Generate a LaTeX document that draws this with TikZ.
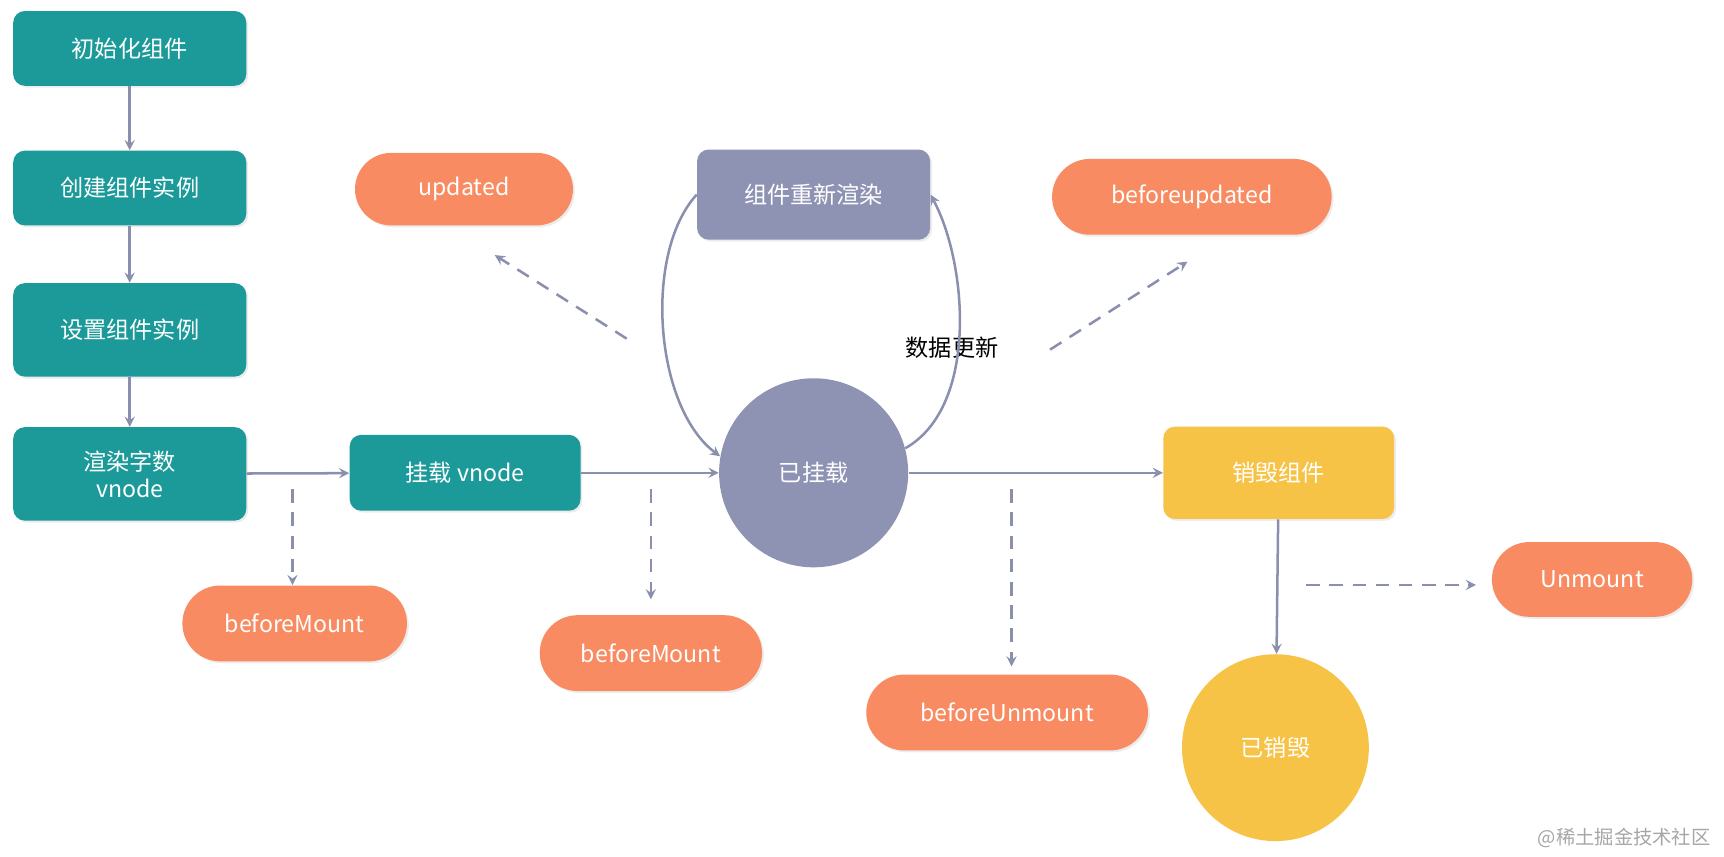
\documentclass[tikz,border=0pt]{standalone}
\usepackage{fontspec}
\setmainfont{Noto Sans CJK SC}
\usetikzlibrary{shadows,shapes.misc}
\definecolor{teal1}{HTML}{1B9A99}
\definecolor{lilac}{HTML}{8E93B3}
\definecolor{coral}{HTML}{F88B62}
\definecolor{gold}{HTML}{F6C347}
\definecolor{linegray}{HTML}{8A8FAE}
\tikzset{
  box/.style={rectangle, rounded corners=6pt, text=white, font=\large, align=center,
    minimum width=4.24cm, drop shadow={opacity=0.15, shadow xshift=1pt, shadow yshift=-1pt}},
  hook/.style={rounded rectangle, fill=coral, text=white, font=\large, minimum height=1.38cm,
    drop shadow={opacity=0.15, shadow xshift=1pt, shadow yshift=-1pt}},
  state/.style={circle, text=white, font=\large, minimum size=3.44cm},
  flow/.style={->, >=stealth, linegray, line width=1.3pt},
  hint/.style={->, >=stealth, linegray, line width=1.3pt, dash pattern=on 7pt off 5pt},
}
\begin{document}
\begin{tikzpicture}[x=0.02cm, y=-0.02cm]
    \useasboundingbox (0,0) rectangle (1568,779);

    % init column
    \node[box, fill=teal1, minimum height=1.36cm] (init) at (118,44) {初始化组件};
    \node[box, fill=teal1, minimum height=1.36cm] (create) at (118,171) {创建组件实例};
    \node[box, fill=teal1, minimum height=1.7cm] (setup) at (118,300) {设置组件实例};
    \node[box, fill=teal1, minimum height=1.7cm] (render) at (118,431) {渲染字数\\vnode};

    % mount and update
    \node[box, fill=teal1, minimum width=4.2cm, minimum height=1.38cm] (mount) at (423,430) {挂载 vnode};
    \node[state, fill=lilac] (mounted) at (740,430) {已挂载};
    \node[box, fill=lilac, minimum height=1.64cm] (rerender) at (740,177) {组件重新渲染};
    \node[font=\large] (change) at (866,316) {数据更新};

    % unmount
    \node[box, fill=gold, minimum width=4.2cm, minimum height=1.68cm] (destroy) at (1163,430) {销毁组件};
    \node[state, fill=gold, minimum size=3.4cm] (destroyed) at (1160,680) {已销毁};

    % hooks
    \node[hook, minimum width=4.2cm, minimum height=1.32cm] (updated) at (422,172) {updated};
    \node[hook, minimum width=5.32cm] (beforeupd) at (1084,179) {beforeupdated};
    \node[hook, minimum width=4.32cm] (bm1) at (268,567) {beforeMount};
    \node[hook, minimum width=4.28cm] (bm2) at (592,594) {beforeMount};
    \node[hook, minimum width=5.36cm] (bum) at (916,648) {beforeUnmount};
    \node[hook, minimum width=3.88cm, minimum height=1.36cm] (um) at (1448,527) {Unmount};

    % main flow
    \draw[flow] (init) -- (create);
    \draw[flow] (create) -- (setup);
    \draw[flow] (setup) -- (render);
    \draw[flow] (render) -- (mount);
    \draw[flow] (mount) -- (mounted);
    \draw[flow] (mounted) -- (destroy);
    \draw[flow] (destroy) -- (destroyed);
    \draw[flow] (rerender.west) .. controls (585,230) and (595,370) .. (mounted.170);
    \draw[flow] (mounted.15) .. controls (890,370) and (880,240) .. (rerender.east);

    % hook hints
    \coordinate (h1) at (266,445);
    \coordinate (h2) at (592,445);
    \coordinate (h3) at (920,445);
    \coordinate (h4) at (1188,532);
    \coordinate (h5) at (570,308);
    \coordinate (h6) at (955,318);
    \draw[hint] (h1) -- (bm1.north -| h1);
    \draw[hint] (h2) -- ([yshift=8pt]bm2.north -| h2);
    \draw[hint] (h3) -- ([yshift=4pt]bum.north -| h3);
    \draw[hint] (h4) -- ([xshift=-8pt]um.west |- h4);
    \draw[hint] (h5) -- (450,232);
    \draw[hint] (h6) -- (1080,238);

    % watermark
    \node[text=gray!70, font=\normalsize, anchor=east] (mark) at (1562,762) {@稀土掘金技术社区};
\end{tikzpicture}
\end{document}
